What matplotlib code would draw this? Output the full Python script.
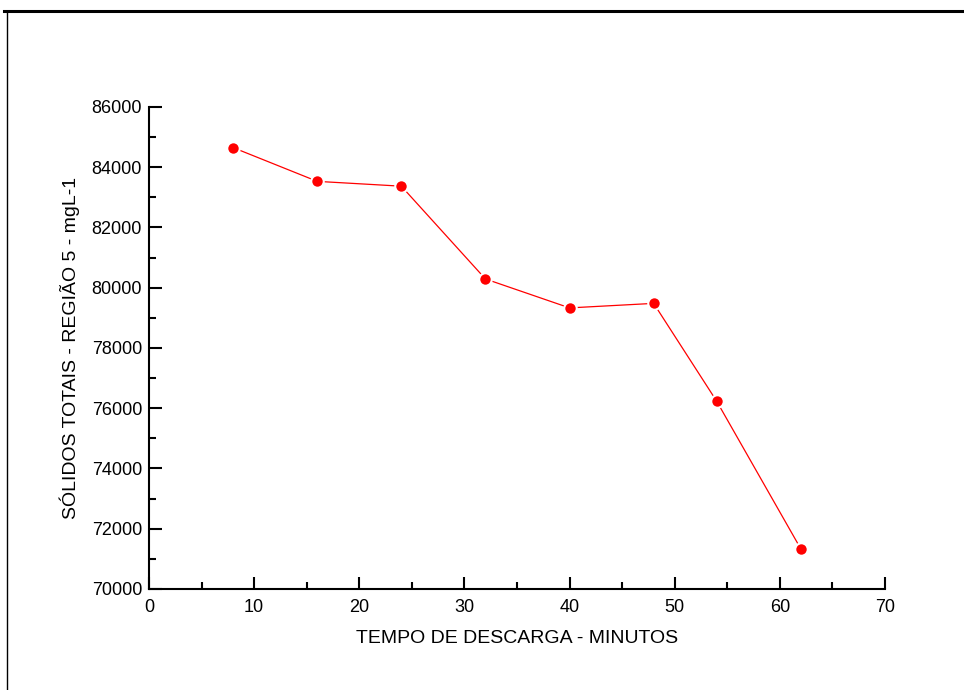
import matplotlib.pyplot as plt
from matplotlib.lines import Line2D
from matplotlib.ticker import MultipleLocator

tempo = [8, 16, 24, 32, 40, 48, 54, 62]
solidos = [84650, 83530, 83370, 80290, 79330, 79480, 76230, 71330]

plt.rcParams['font.family'] = ['Liberation Sans', 'DejaVu Sans']

fig = plt.figure(figsize=(9.64, 6.9), dpi=100)
ax = fig.add_axes([0.1546, 0.1464, 0.918 - 0.1546, 0.845 - 0.1464])

ax.plot(tempo, solidos, color='red', linewidth=0.9, marker='o', markersize=9,
        markerfacecolor='red', markeredgecolor='white', markeredgewidth=1.5)

ax.set_xlim(0, 70)
ax.set_ylim(70000, 86000)
ax.xaxis.set_major_locator(MultipleLocator(10))
ax.xaxis.set_minor_locator(MultipleLocator(5))
ax.yaxis.set_major_locator(MultipleLocator(2000))
ax.yaxis.set_minor_locator(MultipleLocator(1000))

for s in ['top', 'right']:
    ax.spines[s].set_visible(False)
for s in ['left', 'bottom']:
    ax.spines[s].set_linewidth(1.5)

ax.tick_params(which='major', direction='in', length=9, width=1.5, labelsize=13, pad=5)
ax.tick_params(which='minor', direction='in', length=5, width=1.5)
ax.tick_params(axis='x', which='major', pad=7)

ax.set_xlabel('TEMPO DE DESCARGA - MINUTOS', fontsize=14, labelpad=10)
ax.set_ylabel('SÓLIDOS TOTAIS - REGIÃO 5 - mgL-1', fontsize=14, labelpad=8)

# frame around the figure
fig.add_artist(Line2D([4 / 964, 1], [1 - 11 / 690, 1 - 11 / 690], color='black', linewidth=2.2,
                      transform=fig.transFigure))
fig.add_artist(Line2D([7 / 964, 7 / 964], [0, 1 - 11 / 690], color='black', linewidth=1.0,
                      transform=fig.transFigure))

fig.savefig('out.png', dpi=100)
